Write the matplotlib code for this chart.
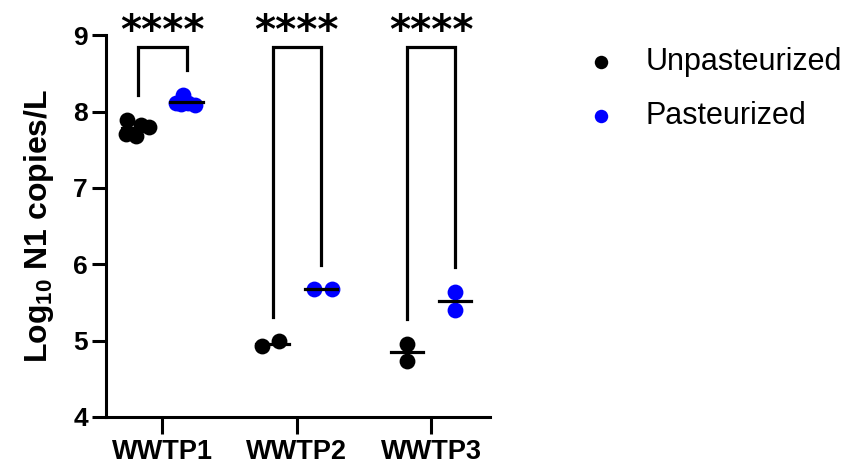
import matplotlib.pyplot as plt
import numpy as np

plt.rcParams['font.family'] = ['Liberation Sans', 'DejaVu Sans']
plt.rcParams['mathtext.default'] = 'regular'

# Sites
sites = ['WWTP1', 'WWTP2', 'WWTP3']

# Log10 N1 copies/L
unpast = [
    [7.89, 7.82, 7.80, 7.71, 7.68],
    [4.93, 4.99],
    [4.96, 4.73],
]
past = [
    [8.22, 8.11, 8.11, 8.08, 8.10],
    [5.67, 5.67],
    [5.64, 5.40],
]
# x offsets of the dots inside each cluster (WWTP1 is a jittered group)
unpast_jit = [[-0.26, -0.16, -0.10, -0.27, -0.20], [-0.26, -0.13], [-0.18, -0.18]]
past_jit = [[0.15, 0.10, 0.19, 0.24, 0.14], [0.13, 0.26], [0.18, 0.18]]

stars = ['****', '****', '****']

x = np.arange(len(sites))
off = 0.18

fig = plt.figure(figsize=(8.41, 4.69), dpi=100)
ax = fig.add_axes([0.126, 0.111, 0.457, 0.814])

for i in range(len(sites)):
    u = np.array(unpast[i])
    p = np.array(past[i])
    ax.scatter(x[i] + np.array(unpast_jit[i]), u, s=130, color='black',
               zorder=3, linewidths=0, label='Unpasteurized' if i == 0 else None)
    ax.scatter(x[i] + np.array(past_jit[i]), p, s=130, color='#0000ff',
               zorder=3, linewidths=0, label='Pasteurized' if i == 0 else None)
    # mean lines
    ax.plot([x[i] - off - 0.12, x[i] - off + 0.12], [u.mean()] * 2,
            color='black', lw=2.3, zorder=4)
    ax.plot([x[i] + off - 0.12, x[i] + off + 0.12], [p.mean()] * 2,
            color='black', lw=2.3, zorder=4)
    # significance bracket
    top = 8.84
    ax.plot([x[i] - off, x[i] - off, x[i] + off, x[i] + off],
            [u.max() + 0.32, top, top, p.max() + 0.32],
            color='black', lw=2.3, clip_on=False, solid_joinstyle='miter')
    ax.text(x[i], 9.04, stars[i], ha='center', va='center', fontsize=29,
            fontweight='bold', family='DejaVu Sans', clip_on=False)

ax.set_xlim(-0.42, 2.44)
ax.set_ylim(4, 9)
ax.set_yticks([4, 5, 6, 7, 8, 9])
ax.set_xticks(x)
ax.set_xticklabels(sites)
for lab in ax.get_xticklabels() + ax.get_yticklabels():
    lab.set_fontweight('bold')
ax.tick_params(axis='y', labelsize=19, width=2.2, length=10, pad=3)
ax.tick_params(axis='x', labelsize=19.5, width=2.2, length=12, pad=4)
ax.spines['top'].set_visible(False)
ax.spines['right'].set_visible(False)
ax.spines['left'].set_linewidth(2.2)
ax.spines['bottom'].set_linewidth(2.2)
ax.set_ylabel('Log$_{10}$ N1 copies/L', fontsize=23, fontweight='bold', labelpad=12)

fig.legend(loc='center left', bbox_to_anchor=(0.655, 0.81), frameon=False,
           fontsize=22, markerscale=0.85, handletextpad=0.7, labelspacing=0.8,
           handlelength=1.5)

plt.savefig('out.png')
